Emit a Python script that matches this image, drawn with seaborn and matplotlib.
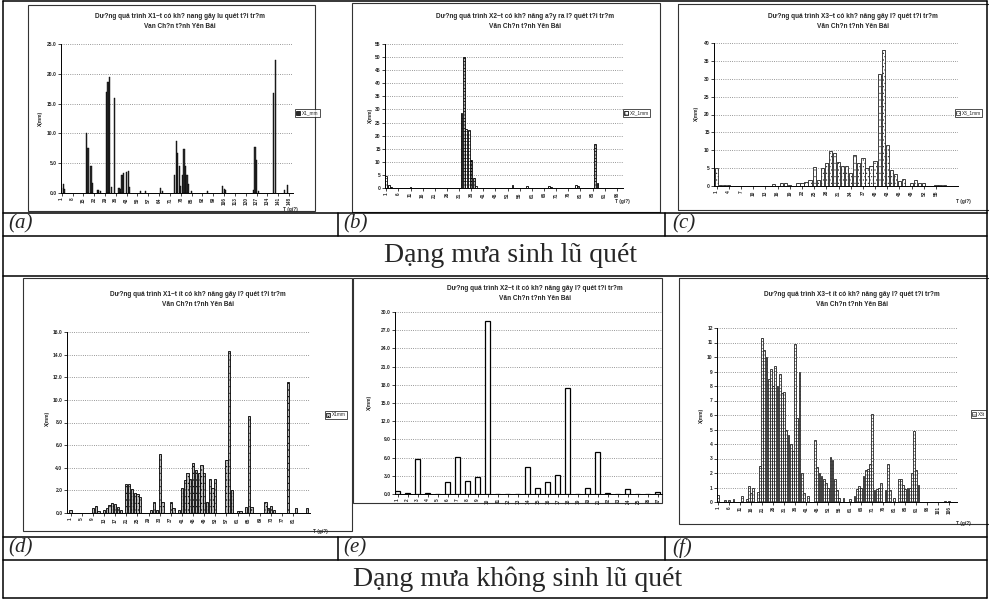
import seaborn as sns
import matplotlib.pyplot as plt
from matplotlib.patches import Rectangle, Patch

# ---- data (hour index -> rain X mm) ----
a_hours = [1, 2, 3, 17, 18, 20, 21, 24, 25, 26, 30, 31, 32, 33, 35, 38, 39, 40, 41, 43, 44, 45,
           52, 55, 65, 66, 74, 75, 76, 77, 78, 79, 80, 81, 82, 83, 85, 95, 105, 106, 107,
           125, 126, 127, 128, 138, 139, 145, 147]
a_vals = [0.8, 1.5, 0.6, 10.0, 7.5, 4.5, 1.7, 0.5, 0.5, 0.4, 17.0, 18.7, 19.5, 1.0, 16.0, 0.8, 0.6,
          3.1, 3.4, 3.6, 3.7, 1.0, 0.3, 0.3, 0.8, 0.4, 3.1, 8.7, 6.7, 4.5, 1.1, 3.1, 7.3, 4.5, 3.0,
          1.5, 0.3, 0.3, 1.2, 0.6, 0.5, 0.5, 7.8, 5.5, 0.3, 16.8, 22.3, 0.5, 1.4]
a_ticks = list(range(1, 149, 7))

b_hours = [1, 2, 3, 11, 32, 33, 34, 35, 36, 37, 38, 53, 59, 68, 69, 79, 80, 87, 88]
b_vals = [4.5, 1.0, 0.4, 0.5, 28.5, 50.0, 22.5, 22.0, 10.8, 4.0, 0.8, 1.0, 0.7, 0.8, 0.5, 1.2, 0.6,
          16.8, 2.0]
b_ticks = list(range(1, 97, 5))

c_hours = [1, 2, 3, 4, 15, 17, 18, 19, 21, 22, 23, 24, 25, 26, 27, 28, 29, 30, 31, 32, 33, 34, 35,
           36, 37, 38, 39, 40, 41, 42, 43, 44, 45, 46, 47, 49, 50, 51, 52, 55, 56, 57]
c_vals = [5.1, 0.3, 0.3, 0.3, 0.6, 0.9, 0.9, 0.4, 0.8, 0.8, 1.0, 1.7, 5.3, 1.8, 4.9, 6.5, 9.7, 9.1,
          6.8, 5.7, 5.7, 3.7, 8.8, 6.3, 7.7, 5.1, 5.7, 7.0, 31.4, 38.0, 11.4, 4.4, 3.3, 1.3, 1.9,
          0.8, 1.8, 0.8, 0.8, 0.4, 0.2, 0.2]
c_ticks = list(range(1, 56, 3))

d_hours = [1, 9, 10, 11, 13, 14, 15, 16, 17, 18, 19, 21, 22, 23, 24, 25, 26, 30, 31, 32, 33, 34,
           37, 38, 40, 41, 42, 43, 44, 45, 46, 47, 48, 49, 50, 51, 52, 53, 57, 58, 59, 61, 62, 64,
           65, 66, 71, 72, 73, 74, 79, 82, 86]
d_vals = [0.3, 0.4, 0.65, 0.2, 0.3, 0.4, 0.7, 0.9, 0.8, 0.5, 0.3, 2.6, 2.6, 2.1, 1.8, 1.65, 1.4,
          0.3, 1.0, 0.3, 5.2, 1.0, 1.0, 0.4, 0.3, 2.2, 2.9, 3.5, 3.0, 4.4, 3.8, 3.5, 4.2, 3.5, 1.0,
          3.0, 2.2, 3.0, 4.7, 14.3, 2.0, 0.2, 0.2, 0.5, 8.6, 0.5, 1.0, 0.4, 0.6, 0.3, 11.6, 0.4, 0.4]
d_ticks = list(range(1, 82, 4))

e_hours = list(range(1, 28))
e_vals = [0.45, 0.15, 5.8, 0.2, 0.0, 1.9, 6.15, 2.1, 2.75, 28.5, 0.0, 0.0, 0.0, 4.4, 1.0, 1.9,
          3.1, 17.5, 0.0, 1.0, 7.0, 0.15, 0.0, 0.8, 0.0, 0.0, 0.4]
e_ticks = e_hours

f_hours = [1, 4, 6, 8, 12, 14, 15, 16, 17, 19, 20, 21, 22, 23, 24, 25, 26, 27, 28, 29, 30, 31, 32,
           33, 34, 35, 36, 37, 38, 39, 40, 42, 45, 46, 47, 48, 49, 50, 51, 52, 53, 54, 55, 56, 58,
           61, 63, 64, 65, 66, 67, 68, 69, 70, 71, 72, 73, 74, 75, 77, 78, 79, 81, 83, 84, 85, 86,
           87, 88, 89, 90, 91, 92, 104, 106]
f_vals = [0.5, 0.15, 0.15, 0.2, 0.4, 0.2, 1.1, 0.6, 1.0, 0.7,
          2.5, 11.3, 10.5, 10.0, 8.5, 9.2, 8.0, 9.4, 8.0, 8.8, 7.5, 7.6, 5.0, 4.6, 4.0, 3.5, 10.9,
          5.8, 9.0, 2.0, 0.6, 0.4,
          4.3, 2.4, 2.0, 1.8, 1.6, 1.3, 1.0, 3.1, 2.9, 1.6, 0.8, 0.3, 0.3, 0.2,
          0.4, 0.9, 1.1, 1.0, 1.8, 2.2, 2.3, 2.6, 6.1, 0.8, 0.9, 1.0, 1.3, 0.8, 2.6, 0.8,
          0.3, 1.6, 1.6, 1.2, 0.9, 1.0, 1.0, 2.0, 4.9, 2.2, 1.2, 0.1, 0.1]
f_ticks = list(range(1, 107, 5))

titles = [
    "Dư?ng quá trình X1~t có kh? nang gây lu quét t?i tr?m",
    "Dư?ng quá trình X2~t có kh? nâng a?y ra l? quét t?i tr?m",
    "Dư?ng quá trình X3~t có kh? nâng gây l? quét t?i tr?m",
    "Dư?ng quá trình X1~t ít có kh? nâng gây l? quét t?i tr?m",
    "Dư?ng quá trình X2~t ít có kh? nâng gây l? quét t?i tr?m",
    "Dư?ng quá trình X3~t ít có kh? nâng gây l? quét t?i tr?m",
]
subtitles = ["Van Ch?n t?nh Yên Bái"] + ["Văn Ch?n t?nh Yên Bái"] * 5
legend_labels = ["X1_mm", "X2_1mm", "X3_1mm", "X1mm", "X2mm", "X3t"]
panel_letters = ["(a)", "(b)", "(c)", "(d)", "(e)", "(f)"]
row_headers = ["Dạng mưa sinh lũ quét", "Dạng mưa không sinh lũ quét"]

# ---- figure setup ----
W, H = 989, 599
sns.set_theme(style="white")
plt.rcParams['font.family'] = ['Liberation Sans', 'DejaVu Sans']
plt.rcParams['hatch.linewidth'] = 0.4

fig = plt.figure(figsize=(W / 100, H / 100), dpi=100)
bg = fig.add_axes([0, 0, 1, 1])
bg.set_xlim(0, W)
bg.set_ylim(H, 0)
bg.axis('off')


def px_rect(x0, y0, x1, y1):
    return [x0 / W, 1 - y1 / H, (x1 - x0) / W, (y1 - y0) / H]


def draw_panel(box, hours, vals, xlim, ymax, ystep, yfmt, ticks, face, edge, hatch, lw, width,
               title, subtitle, title_pos, ylab_pos, leg_pos, leg_label, xlab_pos):
    ax = fig.add_axes(px_rect(*box))
    sns.barplot(x=hours, y=vals, native_scale=True, ax=ax, color=face, edgecolor=edge,
                linewidth=lw, saturation=1, errorbar=None, width=width)
    for p in ax.patches:
        p.set_hatch(hatch)
    ax.set_xlim(*xlim)
    ax.set_ylim(0, ymax)
    yt = [ystep * i for i in range(int(round(ymax / ystep)) + 1)]
    ax.set_yticks(yt, labels=[yfmt.format(v) for v in yt], fontsize=3.6, fontweight='bold')
    ax.set_xticks(ticks, labels=[str(t) for t in ticks], rotation=90, fontsize=3.4,
                  fontweight='bold')
    ax.tick_params(bottom=True, left=True, length=2, width=0.6, pad=1)
    ax.set_xlabel('')
    ax.set_ylabel('')
    ax.yaxis.grid(True, ls=':', color='#777777', lw=0.6)
    ax.set_axisbelow(True)
    for s in ['top', 'right']:
        ax.spines[s].set_visible(False)
    for s in ['left', 'bottom']:
        ax.spines[s].set_color('black')
        ax.spines[s].set_linewidth(0.7)

    bg.text(title_pos[0], title_pos[1], title, ha='center', va='center', fontsize=4.7,
            fontweight='bold')
    bg.text(title_pos[0], title_pos[1] + 10, subtitle, ha='center', va='center', fontsize=4.7,
            fontweight='bold')
    bg.text(ylab_pos[0], ylab_pos[1], "X(mm)", rotation=90, ha='center', va='center',
            fontsize=3.4, fontweight='bold')
    if xlab_pos is not None:
        bg.text(xlab_pos[0], xlab_pos[1], "T (gi?)", ha='center', va='center', fontsize=3.4,
                fontweight='bold')
    if leg_pos is not None:
        leg = ax.legend(handles=[Patch(facecolor=face, edgecolor=edge, hatch=hatch, lw=0.5)],
                        labels=[leg_label], loc='center left', bbox_to_anchor=leg_pos,
                        bbox_transform=bg.transData, fontsize=3.4, frameon=True, fancybox=False,
                        edgecolor='black', handlelength=0.8, handleheight=0.8, borderpad=0.3,
                        handletextpad=0.3, borderaxespad=0)
        leg.get_frame().set_linewidth(0.6)
    return ax


# ---- chart frames (pasted Excel charts) ----
frames = [(28, 5, 315, 211), (352, 3, 660, 212), (678, 4, 995, 210),
          (23, 278, 352, 531), (353, 278, 662, 503), (679, 278, 995, 524)]
for x0, y0, x1, y1 in frames:
    bg.add_patch(Rectangle((x0, y0), x1 - x0, y1 - y0, fill=False, ec='#333333', lw=0.8))

# ---- six panels ----
draw_panel((60.9, 44, 293, 193), a_hours, a_vals, (0.5, 150.5), 25, 5, "{:.1f}", a_ticks,
           '#2b2b2b', 'black', '', 0.3, 0.8, titles[0], subtitles[0], (180, 16), (40, 118),
           (295, 113), legend_labels[0], (290, 209))
draw_panel((385, 44, 623, 188), b_hours, b_vals, (0.5, 98.5), 55, 5, "{:.0f}", b_ticks,
           'white', 'black', '+++++', 0.6, 0.8, titles[1], subtitles[1], (525, 16), (370, 115),
           (623, 113), legend_labels[1], (622, 202))
draw_panel((714, 43, 958, 186), c_hours, c_vals, (0.35, 60.4), 40, 5, "{:.0f}", c_ticks,
           'white', '#222222', '.....', 0.6, 0.8, titles[2], subtitles[2], (853, 16), (696, 113),
           (955, 113), legend_labels[2], (963, 202))
draw_panel((66.7, 332, 310, 513), d_hours, d_vals, (-0.4, 87), 16, 2, "{:.1f}", d_ticks,
           '#bdbdbd', 'black', '.....', 0.6, 0.8, titles[3], subtitles[3], (198, 294), (47, 418),
           (325, 415), legend_labels[3], (320, 532))
draw_panel((395, 312, 662, 494), e_hours, e_vals, (0.75, 27.4), 30, 3, "{:.1f}", e_ticks,
           'white', 'black', '', 0.9, 0.5, titles[4], subtitles[4], (535, 288), (369, 402),
           None, legend_labels[4], None)
draw_panel((717, 328, 957, 502), f_hours, f_vals, (0.5, 109.5), 12, 1, "{:.0f}", f_ticks,
           'white', '#222222', '-----', 0.6, 0.8, titles[5], subtitles[5], (852, 294), (701, 415),
           (971, 414), legend_labels[5], (963, 523))

# ---- table grid ----
lc = 'black'
for y in [1, 213, 236, 276, 537, 560, 598]:
    bg.plot([3, 987], [y, y], color=lc, lw=1.1)
for x in [3, 987]:
    bg.plot([x, x], [1, 598], color=lc, lw=1.1)
for x in [338, 665]:
    bg.plot([x, x], [213, 236], color=lc, lw=1.1)
    bg.plot([x, x], [537, 560], color=lc, lw=1.1)

label_x = [8, 343, 672]
for i, lab in enumerate(panel_letters):
    y = 224 if i < 3 else 548
    bg.text(label_x[i % 3], y, lab, ha='left', va='center', fontsize=15,
            family='Liberation Serif', style='italic')

bg.text(511, 256, row_headers[0], ha='center', va='center', fontsize=20, family='Liberation Serif')
bg.text(518, 579, row_headers[1], ha='center', va='center', fontsize=20, family='Liberation Serif')

fig.savefig('out.png', dpi=100)
